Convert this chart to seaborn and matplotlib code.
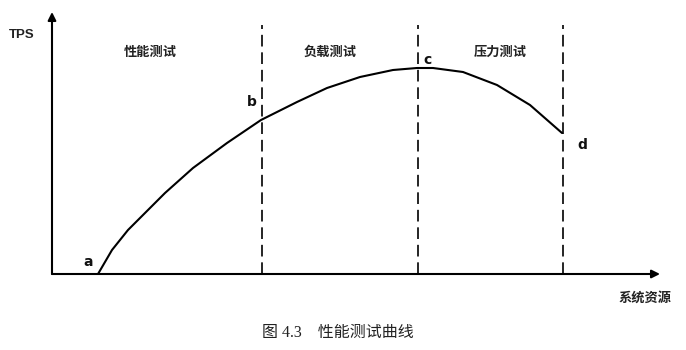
import matplotlib
matplotlib.use("Agg")
import matplotlib.pyplot as plt
import seaborn as sns
import pandas as pd

# Data (x = system resource, y = TPS)
resource = [46, 60, 76, 93, 113, 141, 175, 209, 245, 275, 308, 341, 365, 381, 411, 445, 478, 510]
tps = [0, 24, 44, 61, 81, 106, 131, 154, 172, 186, 197, 204, 206, 206, 202, 189, 169, 141]
boundaries = [210, 366, 511]
zone_labels = ["性能测试", "负载测试", "压力测试"]
zone_x = [98, 278, 448]
point_labels = ["a", "b", "c", "d"]
point_x = [36, 200, 376, 530]
point_y = [12, 172, 214, 129]

sns.set_theme(style="white")
plt.rcParams['font.family'] = ['Noto Sans CJK SC', 'DejaVu Sans']

fig = plt.figure(figsize=(6.86, 3.5), dpi=100)
ax = fig.add_axes([52 / 686, (350 - 274) / 350, 608 / 686, 262 / 350])
ax.set_xlim(0, 608)
ax.set_ylim(0, 262)
ax.patch.set_alpha(0)
for s in ax.spines.values():
    s.set_visible(False)
ax.set_xticks([])
ax.set_yticks([])

df = pd.DataFrame({"resource": resource, "tps": tps})
sns.lineplot(data=df, x="resource", y="tps", ax=ax, color="black", lw=1.5, sort=False)
ax.set_xlabel("")
ax.set_ylabel("")

for b in boundaries:
    ax.axvline(b, ymin=0, ymax=0.95, color="black", lw=1.2, ls=(0, (7, 3.5)))

# axes with arrows
ax.annotate("", xy=(608, 0), xytext=(0, 0),
            arrowprops=dict(arrowstyle="-|>", color="black", lw=1.5,
                            mutation_scale=12, shrinkA=0, shrinkB=0),
            annotation_clip=False)
ax.annotate("", xy=(0, 262), xytext=(0, 0),
            arrowprops=dict(arrowstyle="-|>", color="black", lw=1.5,
                            mutation_scale=12, shrinkA=0, shrinkB=0),
            annotation_clip=False)

for lbl, x in zip(zone_labels, zone_x):
    ax.text(x, 222, lbl, ha="center", va="center", fontsize=9.5, fontweight="bold",
            color="#222222")
for lbl, x, y in zip(point_labels, point_x, point_y):
    ax.text(x, y, lbl, ha="center", va="center", fontsize=10, fontweight="bold",
            family=["DejaVu Sans"], color="#111111")

fig.text(22 / 686, 1 - 35 / 350, "TPS", ha="center", va="center", fontsize=9.5,
         fontweight="bold", family=["Liberation Sans", "DejaVu Sans"], color="#222222")
fig.text(645 / 686, 1 - 298 / 350, "系统资源", ha="center", va="center", fontsize=9.5,
         fontweight="bold", color="#222222")
fig.text(338 / 686, 1 - 333 / 350, "图 4.3    性能测试曲线", ha="center", va="center",
         fontsize=11.5, family=["Liberation Serif", "Noto Sans CJK SC"], color="#222222")

fig.savefig("out.png", dpi=100, facecolor="white")
